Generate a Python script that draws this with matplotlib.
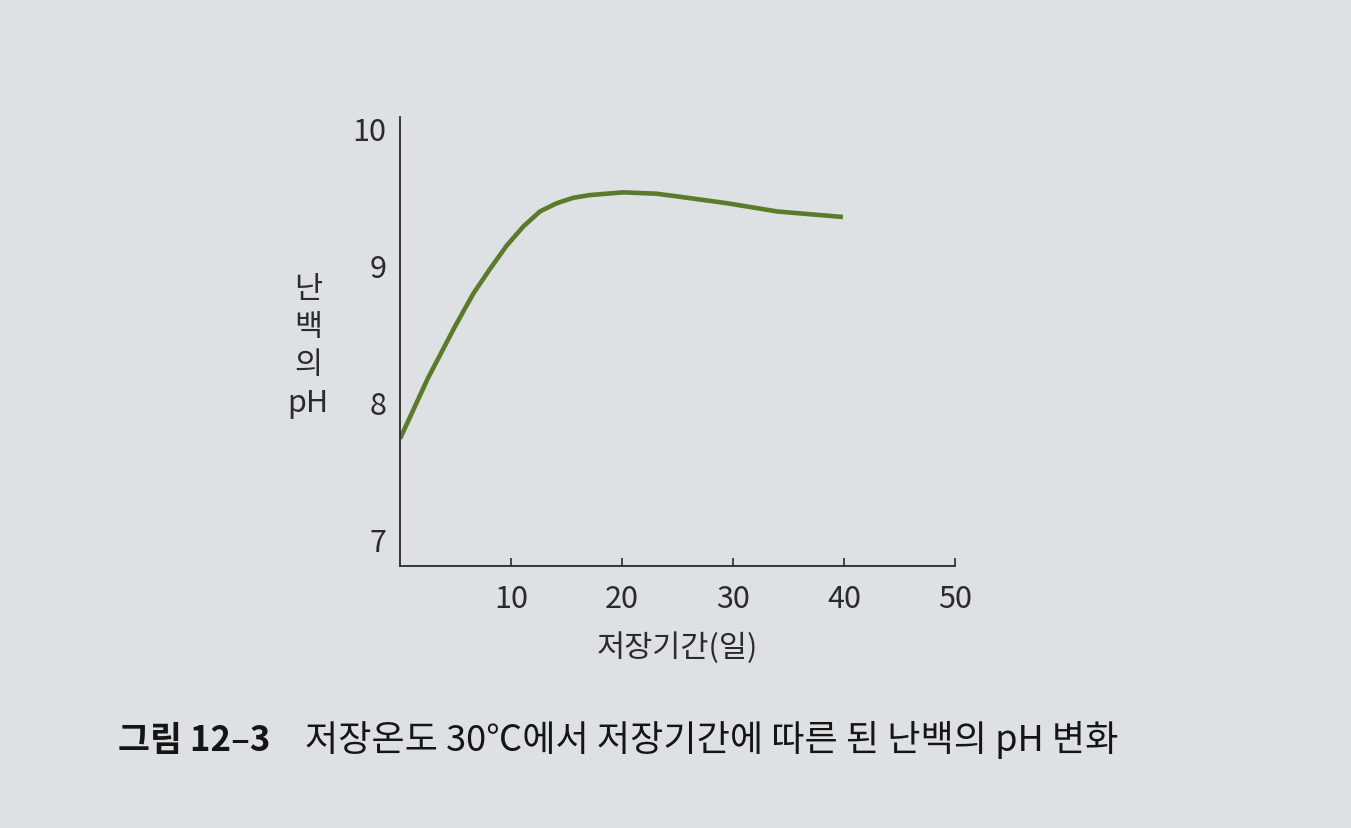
import matplotlib
matplotlib.use("Agg")
import matplotlib.pyplot as plt

plt.rcParams['font.family'] = ['Noto Sans CJK KR', 'DejaVu Sans']

# storage days vs. pH of egg white
days = [0, 2.5, 4.95, 6.6, 8.1, 9.6, 11.1, 12.6, 14.1, 15.6, 17.1,
        20.1, 23.1, 25.0, 29.5, 34.0, 39.9]
ph = [7.73, 8.17, 8.55, 8.79, 8.97, 9.14, 9.28, 9.39, 9.45, 9.49, 9.51,
      9.53, 9.52, 9.50, 9.45, 9.39, 9.35]

x_ticks = [10, 20, 30, 40, 50]
y_ticks = [7, 8, 9, 10]

x_label = "저장기간(일)"
y_label = "난\n백\n의\npH"
caption_num = "그림 12–3"
caption_text = "저장온도 30℃에서 저장기간에 따른 된 난백의 pH 변화"

bg = '#dde1e4'
ink = '#2b2b2b'
green = '#5b7a2c'

fig = plt.figure(figsize=(13.51, 8.29), dpi=100, facecolor=bg)
ax = fig.add_axes([0.2961, 0.316, 0.4108, 0.5416])
ax.set_facecolor(bg)

ax.plot(days, ph, color=green, linewidth=3.3, solid_joinstyle='round',
        solid_capstyle='butt')

ax.set_xlim(0, 50)
ax.set_ylim(6.80, 10.08)
ax.spines['top'].set_visible(False)
ax.spines['right'].set_visible(False)
for s in ('left', 'bottom'):
    ax.spines[s].set_color(ink)
    ax.spines[s].set_linewidth(1.3)

ax.set_xticks(x_ticks)
ax.set_yticks(y_ticks)
ax.tick_params(axis='x', direction='in', length=6, width=1.2, color=ink,
               pad=12, labelsize=22, labelcolor=ink)
ax.tick_params(axis='y', length=0, pad=10, labelsize=22, labelcolor=ink)
for lab in ax.get_xticklabels() + ax.get_yticklabels():
    lab.set_fontweight('light')

ax.set_xlabel(x_label, fontsize=22, color=ink, labelpad=13, fontweight='light')
fig.text(0.228, 0.582, y_label, fontsize=22, color=ink, ha='center', va='center',
         linespacing=1.3, fontweight='light')

fig.text(0.087, 0.107, caption_num, fontsize=25, color='#151515', fontweight='bold',
         ha='left', va='center')
fig.text(0.226, 0.107, caption_text, fontsize=26, color='#151515', fontweight='medium',
         ha='left', va='center')

fig.savefig('out.png', dpi=100, facecolor=bg)
